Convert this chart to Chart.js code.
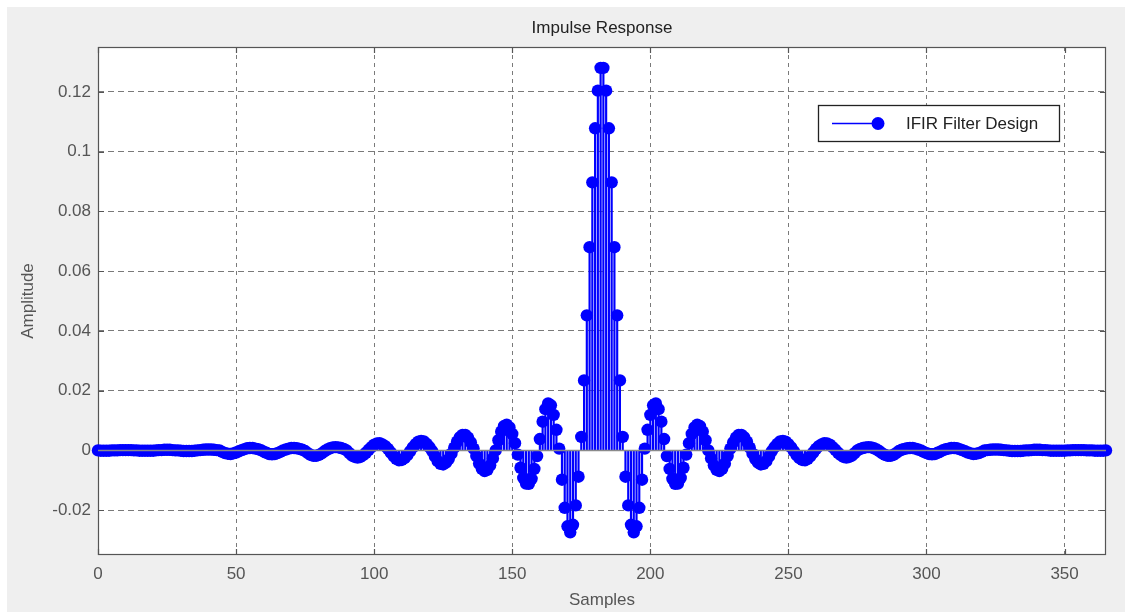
<!DOCTYPE html>
<html>
<head>
<meta charset="utf-8">
<title>Impulse Response</title>
<script src="https://cdn.jsdelivr.net/npm/chart.js@4.4.0/dist/chart.umd.min.js"></script>
<style>
  html, body { margin: 0; padding: 0; background: #fff; }
  #chart-box { width: 1125px; height: 612px; }
</style>
</head>
<body>
<div id="chart-box"><canvas id="impulse-chart" width="1125" height="612"></canvas></div>
<script>
// filter taps, sample 0 .. 365
const amplitude = [
  0.0000, -0.0001, -0.0001, -0.0001, -0.0001, 0.0000, 0.0000, 0.0000, 0.0001, 0.0001,
  0.0001, 0.0001, 0.0001, 0.0000, 0.0000, -0.0001, -0.0001, -0.0001, -0.0001, -0.0001,
  -0.0001, 0.0000, 0.0001, 0.0001, 0.0002, 0.0002, 0.0002, 0.0001, 0.0000, 0.0000,
  -0.0001, -0.0002, -0.0002, -0.0002, -0.0002, -0.0001, 0.0000, 0.0001, 0.0002, 0.0003,
  0.0003, 0.0003, 0.0002, 0.0001, 0.0000, -0.0005, -0.0009, -0.0011, -0.0012, -0.0010,
  -0.0007, -0.0003, 0.0001, 0.0004, 0.0007, 0.0008, 0.0008, 0.0006, 0.0004, 0.0001,
  -0.0004, -0.0008, -0.0012, -0.0013, -0.0012, -0.0009, -0.0005, 0.0000, 0.0003, 0.0006,
  0.0008, 0.0008, 0.0007, 0.0005, 0.0002, -0.0002, -0.0009, -0.0015, -0.0018, -0.0018,
  -0.0015, -0.0010, -0.0003, 0.0003, 0.0007, 0.0010, 0.0011, 0.0010, 0.0008, 0.0005,
  0.0000, -0.0009, -0.0017, -0.0022, -0.0024, -0.0022, -0.0016, -0.0008, 0.0002, 0.0011,
  0.0019, 0.0023, 0.0024, 0.0020, 0.0014, 0.0005, -0.0007, -0.0019, -0.0028, -0.0033,
  -0.0032, -0.0026, -0.0016, -0.0003, 0.0010, 0.0021, 0.0029, 0.0032, 0.0030, 0.0022,
  0.0011, -0.0002, -0.0020, -0.0036, -0.0045, -0.0047, -0.0041, -0.0029, -0.0011, 0.0009,
  0.0029, 0.0044, 0.0052, 0.0052, 0.0043, 0.0027, 0.0006, -0.0019, -0.0044, -0.0062,
  -0.0069, -0.0065, -0.0050, -0.0027, 0.0000, 0.0034, 0.0063, 0.0081, 0.0086, 0.0077,
  0.0055, 0.0024, -0.0014, -0.0058, -0.0092, -0.0111, -0.0112, -0.0095, -0.0062, -0.0019,
  0.0038, 0.0096, 0.0138, 0.0157, 0.0151, 0.0119, 0.0069, 0.0006, -0.0098, -0.0192,
  -0.0254, -0.0274, -0.0249, -0.0184, -0.0088, 0.0045, 0.0234, 0.0452, 0.0680, 0.0897,
  0.1078, 0.1204, 0.1280,
  0.1280, 0.1204, 0.1078, 0.0897, 0.0680, 0.0452, 0.0234, 0.0045, -0.0088, -0.0184,
  -0.0249, -0.0274, -0.0254, -0.0192, -0.0098, 0.0006, 0.0069, 0.0119, 0.0151, 0.0157,
  0.0138, 0.0096, 0.0038, -0.0019, -0.0062, -0.0095, -0.0112, -0.0111, -0.0092, -0.0058,
  -0.0014, 0.0024, 0.0055, 0.0077, 0.0086, 0.0081, 0.0063, 0.0034, 0.0000, -0.0027,
  -0.0050, -0.0065, -0.0069, -0.0062, -0.0044, -0.0019, 0.0006, 0.0027, 0.0043, 0.0052,
  0.0052, 0.0044, 0.0029, 0.0009, -0.0011, -0.0029, -0.0041, -0.0047, -0.0045, -0.0036,
  -0.0020, -0.0002, 0.0011, 0.0022, 0.0030, 0.0032, 0.0029, 0.0021, 0.0010, -0.0003,
  -0.0016, -0.0026, -0.0032, -0.0033, -0.0028, -0.0019, -0.0007, 0.0005, 0.0014, 0.0020,
  0.0024, 0.0023, 0.0019, 0.0011, 0.0002, -0.0008, -0.0016, -0.0022, -0.0024, -0.0022,
  -0.0017, -0.0009, 0.0000, 0.0005, 0.0008, 0.0010, 0.0011, 0.0010, 0.0007, 0.0003,
  -0.0003, -0.0010, -0.0015, -0.0018, -0.0018, -0.0015, -0.0009, -0.0002, 0.0002, 0.0005,
  0.0007, 0.0008, 0.0008, 0.0006, 0.0003, 0.0000, -0.0005, -0.0009, -0.0012, -0.0013,
  -0.0012, -0.0008, -0.0004, 0.0001, 0.0004, 0.0006, 0.0008, 0.0008, 0.0007, 0.0004,
  0.0001, -0.0003, -0.0007, -0.0010, -0.0012, -0.0011, -0.0009, -0.0005, 0.0000, 0.0001,
  0.0002, 0.0003, 0.0003, 0.0003, 0.0002, 0.0001, 0.0000, -0.0001, -0.0002, -0.0002,
  -0.0002, -0.0002, -0.0001, 0.0000, 0.0000, 0.0001, 0.0002, 0.0002, 0.0002, 0.0001,
  0.0001, 0.0000, -0.0001, -0.0001, -0.0001, -0.0001, -0.0001, -0.0001, 0.0000, 0.0000,
  0.0001, 0.0001, 0.0001, 0.0001, 0.0001, 0.0000, 0.0000, 0.0000, -0.0001, -0.0001,
  -0.0001, -0.0001, 0.0000
];
const xTicks = [0, 50, 100, 150, 200, 250, 300, 350];
const yTicks = [-0.02, 0, 0.02, 0.04, 0.06, 0.08, 0.1, 0.12];
const seriesName = 'IFIR Filter Design';
const chartTitle = 'Impulse Response';

const FONT = "'Liberation Sans', Arial, sans-serif";
const BLUE = '#0000ff';
const points = amplitude.map((v, i) => ({ x: i, y: v }));

// matlab-ish axes: grey figure, boxed axes, inward ticks, stem baseline, legend box
const axesDecor = {
  id: 'axesDecor',
  beforeDraw(chart) {
    const { ctx, chartArea: a } = chart;
    ctx.save();
    ctx.fillStyle = '#fff';
    ctx.fillRect(0, 0, chart.width, chart.height);
    ctx.fillStyle = '#efefef';
    ctx.fillRect(7, 7, chart.width - 7, chart.height - 7);
    ctx.fillStyle = '#fff';
    ctx.fillRect(a.left, a.top, a.right - a.left, a.bottom - a.top);
    ctx.restore();
  },
  beforeDatasetsDraw(chart) {
    const { ctx, chartArea: a, scales } = chart;
    ctx.save();
    ctx.strokeStyle = '#555';
    ctx.lineWidth = 1.2;
    ctx.strokeRect(a.left + 0.5, a.top + 0.5, a.right - a.left - 1, a.bottom - a.top - 1);
    ctx.beginPath();
    xTicks.forEach(v => {
      const x = Math.round(scales.x.getPixelForValue(v)) + 0.5;
      ctx.moveTo(x, a.bottom); ctx.lineTo(x, a.bottom - 6);
      ctx.moveTo(x, a.top); ctx.lineTo(x, a.top + 6);
    });
    yTicks.forEach(v => {
      const y = Math.round(scales.y.getPixelForValue(v)) + 0.5;
      ctx.moveTo(a.left, y); ctx.lineTo(a.left + 6, y);
      ctx.moveTo(a.right, y); ctx.lineTo(a.right - 6, y);
    });
    ctx.stroke();
    ctx.restore();
  },
  afterDatasetsDraw(chart) {
    const { ctx, chartArea: a, scales } = chart;
    ctx.save();
    // baseline
    const y0 = scales.y.getPixelForValue(0);
    ctx.strokeStyle = '#8a8a8a';
    ctx.lineWidth = 1.5;
    ctx.beginPath();
    ctx.moveTo(a.left, y0);
    ctx.lineTo(a.right, y0);
    ctx.stroke();

    // title over the axes
    ctx.fillStyle = '#222';
    ctx.font = '17px ' + FONT;
    ctx.textAlign = 'center';
    ctx.textBaseline = 'middle';
    ctx.fillText(chartTitle, (a.left + a.right) / 2, 28);

    // legend
    const bx = a.right - 288, by = a.top + 58, bw = 241, bh = 36;
    ctx.fillStyle = '#fff';
    ctx.fillRect(bx, by, bw, bh);
    ctx.strokeStyle = '#222';
    ctx.lineWidth = 1.3;
    ctx.strokeRect(bx + 0.5, by + 0.5, bw, bh);
    const ly = by + bh / 2 + 0.5;
    ctx.strokeStyle = BLUE;
    ctx.lineWidth = 1.5;
    ctx.beginPath();
    ctx.moveTo(bx + 14, ly);
    ctx.lineTo(bx + 60, ly);
    ctx.stroke();
    ctx.fillStyle = BLUE;
    ctx.beginPath();
    ctx.arc(bx + 60, ly, 6.5, 0, Math.PI * 2);
    ctx.fill();
    ctx.fillStyle = '#222';
    ctx.textAlign = 'left';
    ctx.fillText(chart.data.datasets[0].label, bx + 88, ly + 1);
    ctx.restore();
  }
};

new Chart(document.getElementById('impulse-chart'), {
  type: 'bar',
  data: {
    datasets: [
      {
        type: 'line',
        label: seriesName,
        data: points,
        showLine: false,
        pointRadius: 6.2,
        pointBackgroundColor: BLUE,
        pointBorderColor: BLUE,
        pointBorderWidth: 0,
        clip: false,
        order: 0
      },
      {
        type: 'bar',
        label: 'stems',
        data: points,
        backgroundColor: BLUE,
        borderWidth: 0,
        barThickness: 1.5,
        grouped: false,
        order: 1
      }
    ]
  },
  options: {
    responsive: false,
    animation: false,
    events: [],
    layout: { padding: { top: 47, right: 19, bottom: 0, left: 0 } },
    plugins: {
      legend: { display: false },
      tooltip: { enabled: false }
    },
    scales: {
      x: {
        type: 'linear',
        min: 0,
        max: 365,
        offset: false,
        afterBuildTicks: s => { s.ticks = xTicks.map(v => ({ value: v })); },
        afterFit: s => { s.height = 57; },
        grid: { color: '#7a7a7a', lineWidth: 1, drawTicks: false, offset: false },
        border: { display: false, dash: [4, 4] },
        ticks: { color: '#555', font: { family: FONT, size: 17 }, padding: 9, maxRotation: 0 },
        title: { display: true, text: 'Samples', color: '#555', font: { family: FONT, size: 17 }, padding: { top: 0, bottom: 1 } }
      },
      y: {
        min: -0.035,
        max: 0.135,
        afterBuildTicks: s => { s.ticks = yTicks.map(v => ({ value: v })); },
        afterFit: s => { s.width = 98; },
        grid: { color: '#7a7a7a', lineWidth: 1, drawTicks: false },
        border: { display: false, dash: [6, 4] },
        ticks: {
          color: '#555',
          font: { family: FONT, size: 17 },
          padding: 7,
          callback: v => String(+v.toFixed(2))
        },
        title: { display: true, text: 'Amplitude', color: '#555', font: { family: FONT, size: 17 }, padding: { top: 18, bottom: 0 } }
      }
    }
  },
  plugins: [axesDecor]
});
</script>
</body>
</html>
